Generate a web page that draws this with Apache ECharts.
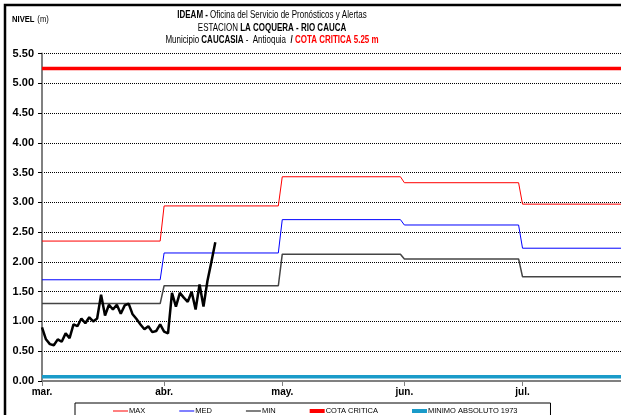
<!DOCTYPE html>
<html>
<head>
<meta charset="utf-8">
<script src="https://cdn.jsdelivr.net/npm/echarts@6/dist/echarts.min.js"></script>
<style>
html,body{margin:0;padding:0;background:#fff;}
#chart{width:621px;height:415px;}
</style>
</head>
<body>
<div id="chart"></div>
<script>
// ---- data ----
var monthLabels = ['mar.', 'abr.', 'may.', 'jun.', 'jul.'];
var monthStartDay = [0, 31, 61, 92, 122];   // day index, 0 = 1 March
var monthEndDay = [30, 60, 91, 121, 152];
var maxVals = [2.35, 2.94, 3.43, 3.33, 2.97];
var medVals = [1.70, 2.15, 2.71, 2.62, 2.23];
var minVals = [1.30, 1.60, 2.13, 2.05, 1.75];
var cotaCritica = 5.25;
var minimoAbsoluto = 0.07;
// daily observed level from 1 March
var observed = [0.90, 0.70, 0.62, 0.60, 0.70, 0.66, 0.80, 0.72, 0.95, 0.92,
                1.05, 0.97, 1.07, 1.00, 1.05, 1.45, 1.10, 1.28, 1.20, 1.28,
                1.13, 1.27, 1.30, 1.12, 1.04, 0.95, 0.87, 0.92, 0.82, 0.84,
                0.95, 0.83, 0.80, 1.48, 1.25, 1.48, 1.40, 1.33, 1.50, 1.20,
                1.62, 1.25, 1.68, 2.00, 2.33];
var titleLines = [
  '{b|IDEAM -} {n|Oficina del Servicio de Pronósticos y Alertas}',
  '{n|ESTACION }{b|LA COQUERA - RIO CAUCA}',
  '{n|Municipio }{b|CAUCASIA}{n| -  Antioquia  }{b|/ }{r|COTA CRITICA 5.25 m}'
];

// ---- build ----
function stepData(vals) {
  var d = [];
  for (var i = 0; i < vals.length; i++) {
    d.push([monthStartDay[i], vals[i]]);
    d.push([monthEndDay[i], vals[i]]);
  }
  return d;
}
function flat(v) { return [[monthStartDay[0], v], [monthEndDay[monthEndDay.length - 1], v]]; }
var obsData = observed.map(function (v, i) { return [i, v]; });

var FONT = "'Liberation Sans Narrow','Arial Narrow','Liberation Sans',Arial,sans-serif";

var chart = echarts.init(document.getElementById('chart'), null, {renderer: 'canvas'});
chart.setOption({
  backgroundColor: '#fff',
  animation: false,
  textStyle: {fontFamily: FONT},
  graphic: [{
    type: 'text', silent: true, x: 272, y: 9, scaleX: 0.76,
    style: {
      text: titleLines.join('\n'),
      align: 'center', verticalAlign: 'top',
      fontFamily: FONT, fontSize: 10.5, lineHeight: 12.5,
      rich: {
        b: {fontFamily: FONT, fontSize: 10.5, fontWeight: 'bold', fill: '#000', lineHeight: 12.5},
        n: {fontFamily: FONT, fontSize: 10.5, fontWeight: 'normal', fill: '#000', lineHeight: 12.5},
        r: {fontFamily: FONT, fontSize: 10.5, fontWeight: 'bold', fill: '#ff0000', lineHeight: 12.5}
      }
    }
  }, {
    type: 'text', silent: true, x: 12, y: 14, scaleX: 0.85,
    style: {
      text: '{b|NIVEL} {n|(m)}',
      verticalAlign: 'top',
      rich: {
        b: {fontFamily: FONT, fontSize: 9, fontWeight: 'bold', fill: '#000'},
        n: {fontFamily: FONT, fontSize: 9, fontWeight: 'normal', fill: '#000'}
      }
    }
  }, {
    type: 'rect', silent: true, z: 100,
    shape: {x: 5, y: 5, width: 700, height: 500},
    style: {fill: 'none', stroke: '#000', lineWidth: 2.5}
  }],
  legend: {
    left: 75, top: 403,
    padding: [4, 33, 12, 38],
    borderColor: '#000', borderWidth: 1,
    itemGap: 34, itemWidth: 15, itemHeight: 4,
    textStyle: {fontFamily: FONT, fontSize: 7.5, color: '#000', padding: [0, 0, 0, -4]},
    data: [
      {name: 'MAX', icon: 'path://M0,0H15V1H0Z'},
      {name: 'MED', icon: 'path://M0,0H15V1H0Z'},
      {name: 'MIN', icon: 'path://M0,0H15V1H0Z'},
      {name: 'COTA CRITICA', icon: 'path://M0,0H15V4H0Z'},
      {name: 'MINIMO ABSOLUTO 1973', icon: 'path://M0,0H15V4H0Z'}
    ]
  },
  grid: {left: 42, right: -2, top: 53.5, bottom: 34, containLabel: false},
  xAxis: {
    type: 'value', min: 0, max: 147,
    axisLine: {lineStyle: {color: '#808080', width: 2}},
    axisTick: {show: true, length: 5, customValues: monthStartDay, lineStyle: {color: '#808080', width: 1}},
    axisLabel: {
      customValues: monthStartDay, margin: 6,
      fontFamily: FONT, fontSize: 10, fontWeight: 'bold', color: '#000',
      formatter: function (v) { var i = monthStartDay.indexOf(v); return i >= 0 ? monthLabels[i] : ''; }
    },
    splitLine: {show: false}
  },
  yAxis: {
    type: 'value', min: 0, max: 5.5, interval: 0.5,
    axisLine: {show: true, lineStyle: {color: '#808080', width: 2}},
    axisTick: {show: true, length: 4, lineStyle: {color: '#000', width: 1}},
    axisLabel: {
      fontFamily: FONT, fontSize: 11, fontWeight: 'bold', color: '#000', margin: 8,
      formatter: function (v) { return v.toFixed(2); }
    },
    splitLine: {show: true, lineStyle: {color: '#000', type: [1, 1], width: 1}}
  },
  series: [
    {name: 'MAX', type: 'line', data: stepData(maxVals), symbol: 'none', color: '#ff0000', lineStyle: {width: 1, color: '#ff0000'}, z: 3},
    {name: 'MED', type: 'line', data: stepData(medVals), symbol: 'none', color: '#0000ff', lineStyle: {width: 1, color: '#0000ff'}, z: 3},
    {name: 'MIN', type: 'line', data: stepData(minVals), symbol: 'none', color: '#000', lineStyle: {width: 1.5, color: '#444'}, z: 3},
    {name: 'COTA CRITICA', type: 'line', data: flat(cotaCritica), symbol: 'none', color: '#ff0000', lineStyle: {width: 3.5, color: '#ff0000'}, z: 4},
    {name: 'MINIMO ABSOLUTO 1973', type: 'line', data: flat(minimoAbsoluto), symbol: 'none', color: '#1a9bc9', lineStyle: {width: 3.5, color: '#1a9bc9'}, z: 4},
    {name: 'NIVEL', type: 'line', data: obsData, symbol: 'none', color: '#000', lineStyle: {width: 2.5, color: '#000'}, z: 5}
  ]
});
</script>
</body>
</html>
